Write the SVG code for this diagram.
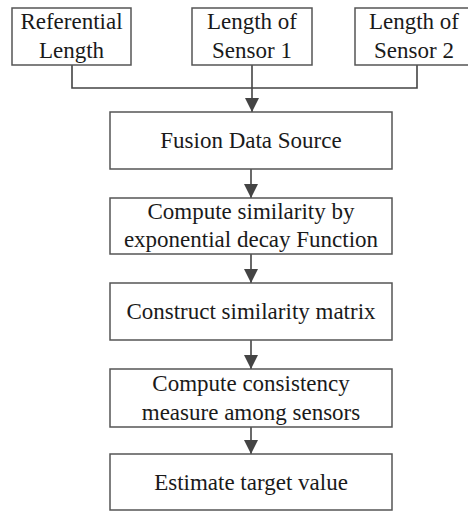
<svg xmlns="http://www.w3.org/2000/svg" width="468" height="511" viewBox="0 0 468 511">
<defs>
<style>
.box{fill:#fff;stroke:#555;stroke-width:1.5}
.t{font-family:'Liberation Serif','DejaVu Serif',serif;font-size:23px;fill:#1a1a1a;text-anchor:middle}
.c{fill:none;stroke:#444;stroke-width:1.6}
</style>
<marker id="ah" viewBox="0 0 14 14" refX="14" refY="7" markerWidth="14" markerHeight="14" markerUnits="userSpaceOnUse" orient="auto">
<path d="M0,0 L14,7 L0,14 Z" fill="#444"/>
</marker>
</defs>
<rect width="468" height="511" fill="#fff"/>
<g id="connectors">
<polyline class="c" points="72,65 72,88 417,88 417,65"/>
<line class="c" x1="252" y1="65" x2="252" y2="112" marker-end="url(#ah)"/>
<line class="c" x1="251" y1="169" x2="251" y2="198" marker-end="url(#ah)"/>
<line class="c" x1="251" y1="254" x2="251" y2="283" marker-end="url(#ah)"/>
<line class="c" x1="251" y1="340" x2="251" y2="369" marker-end="url(#ah)"/>
<line class="c" x1="251" y1="427" x2="251" y2="454" marker-end="url(#ah)"/>
</g>
<g id="referential">
<rect class="box" x="12" y="8" width="119" height="57"/>
<text class="t" x="71.5" y="29">Referential</text>
<text class="t" x="71.5" y="58">Length</text>
</g>
<g id="sensor1">
<rect class="box" x="192" y="8" width="120" height="57"/>
<text class="t" x="252" y="29">Length of</text>
<text class="t" x="252" y="58">Sensor 1</text>
</g>
<g id="sensor2">
<rect class="box" x="355" y="8" width="122" height="57"/>
<text class="t" x="414" y="29">Length of</text>
<text class="t" x="414" y="58">Sensor 2</text>
</g>
<g id="fusion">
<rect class="box" x="110" y="112" width="282" height="57"/>
<text class="t" x="251" y="148">Fusion Data Source</text>
</g>
<g id="similarity">
<rect class="box" x="110" y="198" width="282" height="56"/>
<text class="t" x="251" y="219">Compute similarity by</text>
<text class="t" x="251" y="247">exponential decay Function</text>
</g>
<g id="matrix">
<rect class="box" x="110" y="283" width="282" height="57"/>
<text class="t" x="251" y="319">Construct similarity matrix</text>
</g>
<g id="consistency">
<rect class="box" x="110" y="369" width="282" height="58"/>
<text class="t" x="251" y="391">Compute consistency</text>
<text class="t" x="251" y="420">measure among sensors</text>
</g>
<g id="estimate">
<rect class="box" x="110" y="454" width="282" height="56"/>
<text class="t" x="251" y="490">Estimate target value</text>
</g>
</svg>
